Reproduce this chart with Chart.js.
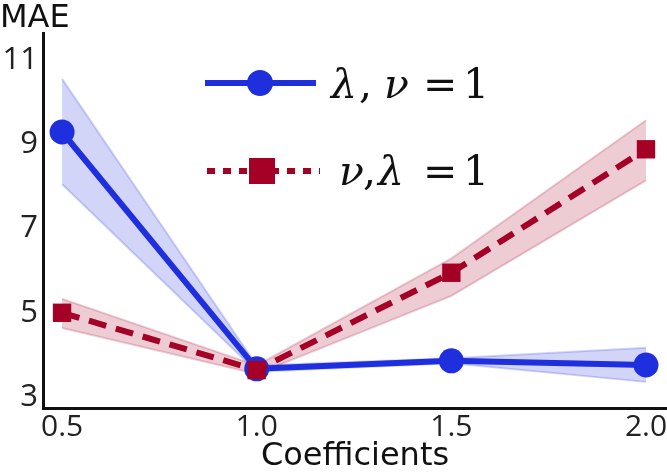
<!DOCTYPE html>
<html>
<head>
<meta charset="utf-8">
<script src="https://cdn.jsdelivr.net/npm/chart.js@4.4.0/dist/chart.umd.min.js"></script>
<style>
  body { margin: 0; background: #fff; }
  canvas { display: block; }
</style>
</head>
<body>
<canvas id="maeChart" width="667" height="476"></canvas>
<script>
// values
const coefficients = [0.5, 1.0, 1.5, 2.0];
const xTicks = [0.5, 1.0, 1.5, 2.0];
const yTicks = [3, 5, 7, 9, 11];

const lambdaMean = [9.29, 3.67, 3.86, 3.76];
const lambdaUpper = [10.55, 3.75, 3.92, 4.17];
const lambdaLower = [8.05, 3.6, 3.8, 3.36];

const nuMean = [5.0, 3.64, 5.95, 8.88];
const nuUpper = [5.33, 3.75, 6.29, 9.57];
const nuLower = [4.64, 3.55, 5.4, 8.14];

const BLUE = '#1f2fdd';
const RED = '#a50026';
const FONT = 'DejaVu Sans';
const TICK_FONT = 'Open Sans';

const pts = arr => arr.map((v, i) => ({ x: coefficients[i], y: v }));

const band = (data, fill, border, fillTo) => ({
  data: pts(data),
  borderColor: border,
  backgroundColor: fill,
  borderWidth: 2,
  pointRadius: 0,
  fill: fillTo,
  order: 5
});

// legend + "MAE" label drawn on top
const extras = {
  id: 'extras',
  afterDraw(chart) {
    const ctx = chart.ctx;
    ctx.save();
    ctx.fillStyle = '#111';
    ctx.font = '32px "' + FONT + '"';
    ctx.textBaseline = 'alphabetic';
    ctx.fillText('MAE', 0, 27);

    // blue entry
    ctx.strokeStyle = BLUE;
    ctx.lineWidth = 6;
    ctx.beginPath();
    ctx.moveTo(205, 83);
    ctx.lineTo(316, 83);
    ctx.stroke();
    ctx.fillStyle = BLUE;
    ctx.beginPath();
    ctx.arc(260, 83, 13, 0, Math.PI * 2);
    ctx.fill();

    // red entry
    ctx.strokeStyle = RED;
    ctx.setLineDash([8, 8]);
    ctx.beginPath();
    ctx.moveTo(207, 171);
    ctx.lineTo(320, 171);
    ctx.stroke();
    ctx.setLineDash([]);
    ctx.fillStyle = RED;
    ctx.fillRect(249, 158, 26, 26);

    // math-style labels, each glyph placed like the typeset original
    const parts = (items, y) => {
      ctx.fillStyle = '#111';
      items.forEach(([txt, style, x]) => {
        ctx.font = style + ' 41px "DejaVu Serif"';
        ctx.fillText(txt, x, y);
      });
    };
    parts([['λ', 'italic', 331], [',', 'normal', 359], ['ν', 'italic', 384], ['=', 'normal', 423], ['1', 'normal', 463]], 98);
    parts([['ν', 'italic', 339], [',', 'normal', 363], ['λ', 'italic', 378], ['=', 'normal', 423], ['1', 'normal', 463]], 185);
    ctx.restore();
  }
};

new Chart(document.getElementById('maeChart'), {
  type: 'line',
  data: {
    datasets: [
      band(lambdaUpper, 'rgba(31,47,221,0.2)', 'rgba(31,47,221,0.2)', '+1'),
      band(lambdaLower, 'rgba(31,47,221,0.2)', 'rgba(31,47,221,0.2)', false),
      band(nuUpper, 'rgba(165,0,38,0.2)', 'rgba(165,0,38,0.2)', '+1'),
      band(nuLower, 'rgba(165,0,38,0.2)', 'rgba(165,0,38,0.2)', false),
      {
        label: 'λ, ν=1',
        data: pts(lambdaMean),
        borderColor: BLUE,
        backgroundColor: BLUE,
        borderWidth: 6,
        pointStyle: 'circle',
        pointRadius: 12.5,
        pointBorderWidth: 0,
        fill: false,
        order: 1
      },
      {
        label: 'ν, λ=1',
        data: pts(nuMean),
        borderColor: RED,
        backgroundColor: RED,
        borderWidth: 6,
        borderDash: [18, 10],
        pointStyle: 'rect',
        pointRadius: 13,
        pointBorderWidth: 0,
        fill: false,
        order: 0
      }
    ]
  },
  options: {
    responsive: false,
    animation: false,
    clip: false,
    layout: { autoPadding: false, padding: { top: 33, right: 0, left: 0, bottom: 0 } },
    plugins: { legend: { display: false }, tooltip: { enabled: false } },
    scales: {
      x: {
        type: 'linear',
        min: 0.451,
        max: 2.054,
        afterBuildTicks: s => { s.ticks = xTicks.map(v => ({ value: v })); },
        afterFit: s => { s.height = 68; s.paddingLeft = 0; s.paddingRight = 0; },
        grid: { display: false, drawTicks: false },
        border: { display: true, color: '#111', width: 3 },
        ticks: {
          color: '#222',
          padding: 1,
          font: { family: TICK_FONT, size: 30 },
          callback: v => v.toFixed(1)
        },
        title: {
          display: true,
          text: 'Coefficients',
          color: '#111',
          padding: { top: 0, bottom: 0 },
          font: { family: FONT, size: 32 }
        }
      },
      y: {
        min: 2.74,
        max: 11.64,
        afterBuildTicks: s => { s.ticks = yTicks.map(v => ({ value: v })); },
        afterFit: s => { s.width = 43; s.paddingTop = 0; s.paddingBottom = 0; },
        grid: { display: false, drawTicks: false },
        border: { display: true, color: '#111', width: 3 },
        ticks: {
          color: '#222',
          padding: 5,
          font: { family: TICK_FONT, size: 31 }
        }
      }
    }
  },
  plugins: [extras]
});
</script>
</body>
</html>
